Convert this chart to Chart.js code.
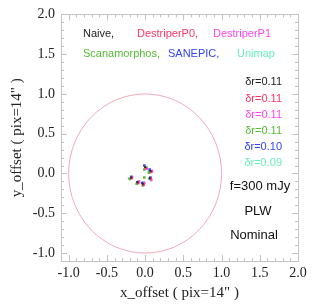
<!DOCTYPE html>
<html><head><meta charset="utf-8">
<script src="https://cdn.jsdelivr.net/npm/chart.js@4/dist/chart.umd.min.js"></script>
<style>html,body{margin:0;padding:0;background:#fff}canvas{display:block}</style>
</head><body>
<canvas id="c" width="327" height="308"></canvas>
<script>
// ---- data ----
const methods = ["Naive", "DestriperP0", "DestriperP1", "Scanamorphos", "SANEPIC", "Unimap"];
const methodColors = ["#222222", "#ff3366", "#ff44ee", "#55bb33", "#3344ff", "#66f0b8"];
const naiveX   = [0.00, 0.07, -0.18, -0.10, 0.06, -0.03];
const naiveY   = [0.08, 0.03, -0.05, -0.11, -0.06, -0.13];
const p0X      = [0.01, 0.08, -0.18, -0.09, 0.07, -0.02];
const p0Y      = [0.07, 0.02, -0.06, -0.12, -0.06, -0.14];
const p1X      = [0.02, 0.09, -0.17, -0.08, 0.08, -0.01];
const p1Y      = [0.06, 0.03, -0.05, -0.10, -0.08, -0.12];
const scanX    = [-0.01, 0.05, -0.20, -0.11, -0.01, -0.03];
const scanY    = [0.05, 0.01, -0.07, -0.13, -0.05, -0.15];
const sanepicX = [-0.01, 0.06, -0.18, -0.10, 0.07, -0.04];
const sanepicY = [0.10, 0.05, -0.04, -0.11, -0.05, -0.12];
const unimapX  = [0.02, 0.05, -0.21, -0.09, 0.05, -0.02];
const unimapY  = [0.08, 0.03, -0.06, -0.10, -0.07, -0.11];
const deltaR   = ["0.11", "0.11", "0.11", "0.11", "0.10", "0.09"];
const tickValues = [-1.0, -0.5, 0.0, 0.5, 1.0, 1.5, 2.0];
const axisMin = -1.1, axisMax = 2.0;
const circleRadius = 1.0;
const infoLines = ["f=300 mJy", "PLW", "Nominal"];

const allX = [naiveX, p0X, p1X, scanX, sanepicX, unimapX];
const allY = [naiveY, p0Y, p1Y, scanY, sanepicY, unimapY];
const datasets = methods.map((m, i) => ({
  label: m,
  data: allX[i].map((x, j) => ({x: x, y: allY[i][j]})),
  backgroundColor: methodColors[i],
  borderColor: methodColors[i],
  pointRadius: i === 0 ? 1.4 : 1.8,
  pointStyle: 'rect',
  borderWidth: 0,
  showLine: false
}));

const frame = {
  id: 'frame',
  beforeDatasetsDraw(chart) {
    const {ctx, scales: {x, y}} = chart;
    ctx.save();
    const cx = x.getPixelForValue(0), cy = y.getPixelForValue(0);
    const rx = x.getPixelForValue(circleRadius) - cx;
    const ry = cy - y.getPixelForValue(circleRadius);
    ctx.strokeStyle = '#f4a8ba';
    ctx.lineWidth = 1;
    ctx.beginPath();
    ctx.ellipse(cx, cy, rx, ry, 0, 0, Math.PI * 2);
    ctx.stroke();
    ctx.restore();
  },
  afterDraw(chart) {
    const {ctx, chartArea: a, scales: {x, y}} = chart;
    ctx.save();
    ctx.strokeStyle = '#c4c4c4';
    ctx.lineWidth = 1;
    ctx.strokeRect(Math.round(a.left) + 0.5, Math.round(a.top) + 0.5, Math.round(a.right - a.left), Math.round(a.bottom - a.top));
    ctx.beginPath();
    for (let k = -10; k <= 20; k++) {
      const v = k / 10;
      const major = (k % 5 === 0);
      const len = major ? 6 : 3;
      const px = Math.round(x.getPixelForValue(v)) + 0.5;
      ctx.moveTo(px, a.bottom); ctx.lineTo(px, a.bottom - len);
      ctx.moveTo(px, a.top); ctx.lineTo(px, a.top + len);
      const py = Math.round(y.getPixelForValue(v)) + 0.5;
      ctx.moveTo(a.left, py); ctx.lineTo(a.left + len, py);
      ctx.moveTo(a.right, py); ctx.lineTo(a.right - len, py);
    }
    ctx.stroke();

    ctx.textBaseline = 'middle';
    ctx.font = '11px "Liberation Sans", Arial, sans-serif';
    const L = a.left, T = a.top;
    const row1 = [[methods[0] + ",", 22], [methods[1] + ",", 76], [methods[2], 152]];
    const row2 = [[methods[3] + ",", 22], [methods[4] + ",", 107], [methods[5], 176]];
    ctx.textAlign = 'left';
    row1.forEach((r, i) => { ctx.fillStyle = methodColors[i]; ctx.fillText(r[0], L + r[1], T + 20); });
    row2.forEach((r, i) => { ctx.fillStyle = methodColors[i + 3]; ctx.fillText(r[0], L + r[1], T + 40); });
    ctx.textAlign = 'right';
    deltaR.forEach((d, i) => {
      ctx.fillStyle = methodColors[i];
      ctx.fillText('\u03b4r=' + d, L + 221, T + 68 + i * 16.2);
    });
    ctx.textAlign = 'center';
    ctx.fillStyle = '#111';
    ctx.font = '13px "Liberation Sans", Arial, sans-serif';
    ctx.fillText(infoLines[0], L + 199, T + 172);
    ctx.fillText(infoLines[1], L + 197, T + 197);
    ctx.fillText(infoLines[2], L + 193, T + 221);
    ctx.restore();
  }
};

const tickFont = {family: '"Liberation Serif", "Times New Roman", serif', size: 14};
const titleFont = {family: '"Liberation Serif", "Times New Roman", serif', size: 15};

new Chart(document.getElementById('c'), {
  type: 'scatter',
  data: {datasets},
  options: {
    responsive: false,
    animation: false,
    events: [],
    layout: {padding: {top: 12, right: 29, left: 0, bottom: 0}},
    plugins: {legend: {display: false}, tooltip: {enabled: false}},
    scales: {
      x: {
        type: 'linear', min: axisMin, max: axisMax,
        afterBuildTicks: s => { s.ticks = tickValues.map(v => ({value: v})); },
        afterFit: s => { s.height = 47; },
        grid: {display: false, drawTicks: false},
        border: {display: false},
        ticks: {autoSkip: false, maxRotation: 0, padding: 4, color: '#222', font: tickFont,
                callback: v => v.toFixed(1)},
        title: {display: true, text: 'x_offset ( pix=14" )', color: '#222', font: titleFont,
                padding: {top: 0, bottom: 6}}
      },
      y: {
        type: 'linear', min: axisMin, max: axisMax,
        afterBuildTicks: s => { s.ticks = tickValues.map(v => ({value: v})); },
        afterFit: s => { s.width = 61; },
        grid: {display: false, drawTicks: false},
        border: {display: false},
        ticks: {autoSkip: false, padding: 6, color: '#222', font: tickFont,
                callback: v => v.toFixed(1)},
        title: {display: true, text: 'y_offset ( pix=14" )', color: '#222', font: titleFont,
                padding: {top: 8, bottom: 0}}
      }
    }
  },
  plugins: [frame]
});
</script>
</body></html>
